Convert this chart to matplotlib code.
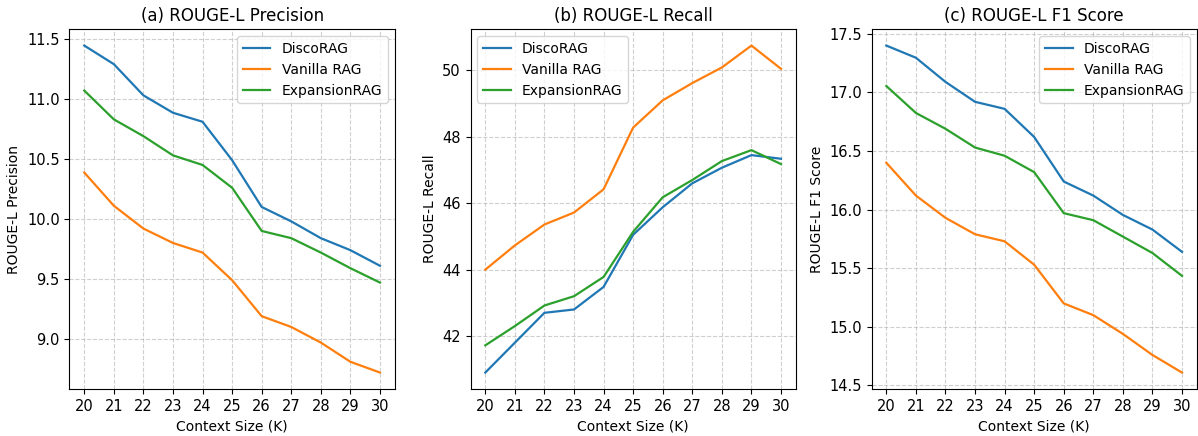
import matplotlib
matplotlib.use('Agg')
import matplotlib.pyplot as plt

# Context sizes (K)
context_sizes = [20, 21, 22, 23, 24, 25, 26, 27, 28, 29, 30]
methods = ['DiscoRAG', 'Vanilla RAG', 'ExpansionRAG']

# ROUGE-L precision
precision_disco = [11.445, 11.29, 11.03, 10.885, 10.81, 10.49, 10.10, 9.98, 9.84, 9.74, 9.61]
precision_vanilla = [10.387, 10.11, 9.92, 9.80, 9.72, 9.49, 9.19, 9.10, 8.97, 8.81, 8.72]
precision_expansion = [11.07, 10.83, 10.69, 10.53, 10.45, 10.26, 9.90, 9.84, 9.72, 9.59, 9.47]

# ROUGE-L recall
recall_disco = [40.9, 41.8, 42.7, 42.8, 43.48, 45.05, 45.88, 46.6, 47.07, 47.45, 47.34]
recall_vanilla = [44.0, 44.73, 45.36, 45.72, 46.42, 48.28, 49.1, 49.62, 50.09, 50.75, 50.05]
recall_expansion = [41.72, 42.3, 42.92, 43.2, 43.78, 45.14, 46.18, 46.7, 47.27, 47.6, 47.18]

# ROUGE-L F1
f1_disco = [17.40, 17.296, 17.09, 16.92, 16.86, 16.62, 16.24, 16.12, 15.955, 15.83, 15.64]
f1_vanilla = [16.40, 16.12, 15.93, 15.79, 15.73, 15.53, 15.20, 15.10, 14.94, 14.76, 14.61]
f1_expansion = [17.055, 16.825, 16.69, 16.53, 16.46, 16.32, 15.97, 15.91, 15.77, 15.63, 15.435]

panels = [
    ('(a) ROUGE-L Precision', 'ROUGE-L Precision',
     [precision_disco, precision_vanilla, precision_expansion], 'upper right'),
    ('(b) ROUGE-L Recall', 'ROUGE-L Recall',
     [recall_disco, recall_vanilla, recall_expansion], 'upper left'),
    ('(c) ROUGE-L F1 Score', 'ROUGE-L F1 Score',
     [f1_disco, f1_vanilla, f1_expansion], 'upper right'),
]

fig, axes = plt.subplots(1, 3, figsize=(11.98, 4.36), dpi=100)
fig.subplots_adjust(left=0.058, right=0.999, top=0.933, bottom=0.108, wspace=0.233)

for ax, (title, ylabel, series, loc) in zip(axes, panels):
    for name, values in zip(methods, series):
        ax.plot(context_sizes, values, label=name, linewidth=1.6)
    ax.set_title(title, fontsize=12)
    ax.set_xlabel('Context Size (K)', fontsize=10)
    ax.set_ylabel(ylabel, fontsize=10)
    ax.set_xticks(context_sizes)
    ax.tick_params(labelsize=10.5)
    ax.grid(True, linestyle='--', alpha=0.6)
    ax.legend(loc=loc, fontsize=10)

fig.savefig('out.png', dpi=100)
